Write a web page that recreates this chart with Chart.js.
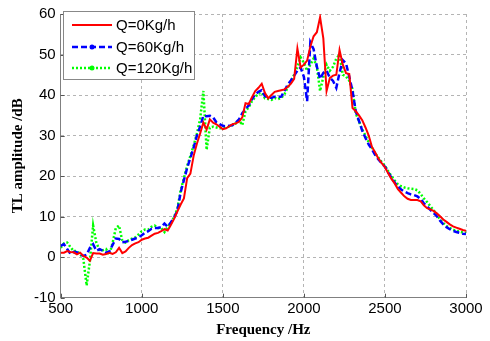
<!DOCTYPE html>
<html>
<head>
<meta charset="utf-8">
<script src="https://cdn.jsdelivr.net/npm/chart.js@4/dist/chart.umd.min.js"></script>
<style>
  html, body { margin: 0; padding: 0; background: #fff; }
  #wrap { width: 490px; height: 341px; }
</style>
</head>
<body>
<div id="wrap"><canvas id="chart-tl"></canvas></div>
<script>
// frequency grid (Hz)
var freq = [
  500,520,540,560,580,600,620,640,660,680,
  700,720,740,760,780,800,820,840,860,880,
  900,920,940,960,980,1000,1020,1040,1060,1080,
  1100,1120,1140,1160,1180,1200,1220,1240,1260,1280,
  1300,1320,1340,1360,1380,1400,1420,1440,1460,1480,
  1500,1520,1540,1560,1580,1600,1620,1640,1660,1680,
  1700,1720,1740,1760,1780,1800,1820,1840,1860,1880,
  1900,1920,1940,1960,1980,2000,2020,2040,2060,2080,
  2100,2120,2140,2160,2180,2200,2220,2240,2260,2280,
  2300,2320,2340,2360,2380,2400,2420,2440,2460,2480,
  2500,2520,2540,2560,2580,2600,2620,2640,2660,2680,
  2700,2720,2740,2760,2780,2800,2820,2840,2860,2880,
  2900,2920,2940,2960,2980,3000
];

// TL amplitude (dB), Q=0Kg/h
var tlQ0 = [
  1.1,1.1,1.5,1.3,1.2,0.7,1.1,0.3,-0.1,-0.9,
  1.0,0.9,0.9,0.6,0.8,1.1,0.8,1.2,2.3,1.0,
  1.4,2.3,3.0,3.4,3.7,4.3,4.6,4.8,5.3,5.8,
  6.0,6.4,6.9,6.6,8.0,9.5,11.3,13.0,14.5,19.5,
  20.6,25.0,28.0,30.5,33.2,31.5,34.0,33.2,32.8,32.2,
  31.6,31.8,32.3,32.8,33.0,33.4,34.5,38.0,37.8,39.5,
  41.0,41.8,42.8,40.5,39.2,40.0,40.8,41.0,41.2,41.4,
  42.0,42.8,44.0,51.5,46.8,47.5,48.5,52.0,54.5,55.5,
  59.2,54.0,41.0,44.2,44.8,45.0,51.1,47.5,45.4,45.2,
  36.8,36.0,35.0,33.8,32.0,30.0,27.2,25.8,24.3,23.2,
  22.2,20.7,19.3,18.2,16.8,15.9,15.0,14.4,14.1,14.1,
  14.1,13.8,12.8,12.1,11.8,11.4,10.8,10.1,9.3,8.7,
  8.1,7.6,7.3,7.0,6.7,6.5
];

// Q=60Kg/h
var tlQ60 = [
  2.8,3.2,2.0,0.8,1.3,1.2,0.8,0.3,0.6,2.3,
  3.2,1.6,2.0,1.6,1.1,1.4,3.0,4.6,4.5,3.7,
  3.8,4.0,4.3,4.6,4.9,5.4,6.0,6.4,7.0,7.2,
  7.2,7.4,8.3,7.5,8.6,9.8,11.5,16.0,19.0,22.0,
  24.5,27.0,30.0,32.2,34.9,34.8,34.9,34.5,33.3,32.8,
  32.4,32.3,32.4,32.6,33.2,34.0,35.5,36.5,37.5,39.0,
  40.2,40.8,41.2,39.7,39.5,39.3,39.6,39.5,39.6,41.0,
  42.6,43.6,44.8,46.0,46.8,44.5,38.5,53.0,51.3,47.0,
  44.0,45.5,46.0,44.3,43.5,41.8,45.5,48.6,47.8,44.5,
  41.0,36.0,33.6,31.2,29.4,27.8,26.6,25.2,24.1,23.2,
  22.3,20.9,19.6,18.4,17.4,16.7,16.2,15.8,15.5,15.3,
  15.0,14.4,13.3,12.5,11.7,10.9,10.1,9.0,8.1,7.4,
  6.9,6.5,6.2,6.0,5.8,5.7
];

// Q=120Kg/h
var tlQ120 = [
  2.3,3.4,3.6,2.5,1.5,1.5,0.8,-0.5,-7.0,-1.0,
  7.8,3.5,1.8,1.7,2.0,0.6,3.5,7.2,7.8,4.0,
  3.6,4.2,4.6,4.9,5.6,6.4,6.8,6.8,7.5,7.8,
  7.2,7.2,6.2,7.5,8.4,10.0,12.0,16.5,19.5,22.5,
  25.0,27.5,30.5,34.0,41.0,26.5,32.0,32.2,32.0,31.8,
  31.8,32.0,32.2,32.6,33.0,33.8,32.6,36.0,37.0,38.5,
  39.5,40.4,40.6,39.2,39.0,38.8,39.3,39.0,39.3,40.2,
  41.8,43.5,45.0,47.0,49.3,48.0,46.0,47.5,49.0,47.0,
  41.0,44.5,47.5,46.0,47.0,49.0,50.0,45.0,44.6,43.5,
  41.5,35.5,33.5,31.5,30.0,28.3,27.0,25.6,24.5,23.5,
  22.6,21.2,20.0,18.9,18.0,17.5,17.2,17.0,16.9,16.8,
  16.5,15.6,14.5,13.6,12.6,11.6,10.5,9.3,8.4,7.7,
  7.2,6.8,6.5,6.3,6.1,6.0
];

var seriesLabels = ["Q=0Kg/h", "Q=60Kg/h", "Q=120Kg/h"];

function pairs(ys) {
  return freq.map(function(f, i) { return {x: f, y: ys[i]}; });
}

// legend drawn by hand, MATLAB style box in top-left corner
var boxLegend = {
  id: "boxLegend",
  afterDraw: function(chart) {
    var ctx = chart.ctx;
    ctx.save();
    ctx.fillStyle = "#fff";
    ctx.fillRect(63.5, 11.5, 131, 68);
    ctx.strokeStyle = "#888";
    ctx.lineWidth = 1;
    ctx.strokeRect(63.5, 11.5, 131, 68);
    var rows = [25, 47, 68];
    chart.data.datasets.forEach(function(ds, i) {
      var y = rows[i];
      ctx.strokeStyle = ds.borderColor;
      ctx.lineWidth = ds.borderWidth;
      ctx.setLineDash(ds.borderDash || []);
      ctx.beginPath();
      ctx.moveTo(72, y);
      ctx.lineTo(112, y);
      ctx.stroke();
      ctx.setLineDash([]);
      if (i > 0) {
        ctx.fillStyle = ds.borderColor;
        ctx.beginPath();
        ctx.arc(92, y, 2.5, 0, Math.PI * 2);
        ctx.fill();
      }
      ctx.fillStyle = "#000";
      ctx.font = "15px 'Liberation Sans', Arial, sans-serif";
      ctx.textBaseline = "middle";
      ctx.fillText(ds.label, 116, y + 1);
    });
    ctx.restore();
  }
};

// small inward ticks on the left and bottom axes
var innerTicks = {
  id: "innerTicks",
  afterDatasetsDraw: function(chart) {
    var c = chart.ctx, a = chart.chartArea;
    var xs = chart.scales.x, ys = chart.scales.y;
    c.save();
    c.strokeStyle = "#555";
    c.lineWidth = 1;
    c.beginPath();
    xs.ticks.forEach(function(t) {
      var px = Math.round(xs.getPixelForValue(t.value)) + 0.5;
      c.moveTo(px, a.bottom);
      c.lineTo(px, a.bottom - 4);
    });
    ys.ticks.forEach(function(t) {
      var py = Math.round(ys.getPixelForValue(t.value)) + 0.5;
      c.moveTo(a.left, py);
      c.lineTo(a.left + 4, py);
    });
    c.stroke();
    c.restore();
  }
};

function plainTick(v) { return String(v); }

var ctx = document.getElementById("chart-tl").getContext("2d");
var chart = new Chart(ctx, {
  type: "line",
  data: {
    datasets: [{
      label: seriesLabels[0],
      data: pairs(tlQ0),
      borderColor: "#ff0000",
      borderWidth: 2,
      pointRadius: 0
    }, {
      label: seriesLabels[1],
      data: pairs(tlQ60),
      borderColor: "#0000ff",
      borderWidth: 2.5,
      borderDash: [6, 3],
      pointRadius: 0
    }, {
      label: seriesLabels[2],
      data: pairs(tlQ120),
      borderColor: "#00ff00",
      borderWidth: 2.5,
      borderDash: [2, 2],
      pointRadius: 0
    }]
  },
  options: {
    responsive: true,
    maintainAspectRatio: false,
    animation: false,
    layout: { padding: { left: 0, right: 24, top: 10, bottom: 0 } },
    plugins: {
      legend: { display: false },
      tooltip: { enabled: false }
    },
    scales: {
      x: {
        type: "linear",
        min: 500,
        max: 3000,
        ticks: { stepSize: 500, color: "#000", padding: 2, maxRotation: 0, callback: plainTick,
                 font: { family: "'Liberation Sans', Arial, sans-serif", size: 15 } },
        grid: { color: "#b4b4b4", drawTicks: false, lineWidth: 1 },
        border: { color: "#808080", width: 1, dash: [3, 3] },
        title: { display: true, text: "Frequency /Hz", color: "#000", padding: { top: 0, bottom: 2 },
                 font: { family: "'Liberation Serif', 'Times New Roman', serif", size: 15, weight: "bold" } },
        afterFit: function(scale) { scale.height = 43.3; }
      },
      y: {
        min: -10,
        max: 60,
        ticks: { stepSize: 10, color: "#000", padding: 5, callback: plainTick,
                 font: { family: "'Liberation Sans', Arial, sans-serif", size: 15 } },
        grid: { color: "#b4b4b4", drawTicks: false, lineWidth: 1 },
        border: { color: "#808080", width: 1, dash: [3, 3] },
        title: { display: true, text: "TL amplitude /dB", color: "#000", padding: { top: 9, bottom: 0 },
                 font: { family: "'Liberation Serif', 'Times New Roman', serif", size: 15, weight: "bold" } },
        afterFit: function(scale) { scale.width = 60.7; }
      }
    }
  },
  plugins: [boxLegend, innerTicks]
});
</script>
</body>
</html>
